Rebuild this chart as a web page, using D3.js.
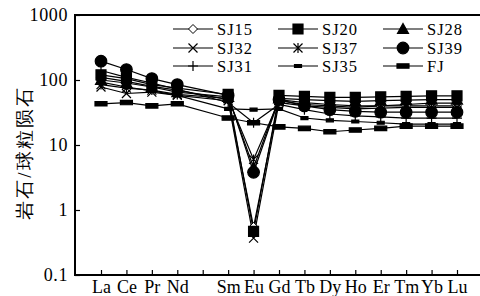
<!DOCTYPE html>
<html>
<head>
<meta charset="utf-8">
<script src="https://cdn.jsdelivr.net/npm/d3@7"></script>
<style>
  body { margin: 0; background: #fff; }
  svg { display: block; }
  text { font-family: "Liberation Serif", "DejaVu Serif", serif; fill: #000; }
</style>
</head>
<body>
<div id="chart"></div>
<script>
// REE, chondrite normalised. Pm has no data (gap on the axis)
const elements = ["La", "Ce", "Pr", "Nd", "Pm", "Sm", "Eu", "Gd", "Tb", "Dy", "Ho", "Er", "Tm", "Yb", "Lu"];
const elementLabels = ["La", "Ce", "Pr", "Nd", "", "Sm", "Eu", "Gd", "Tb", "Dy", "Ho", "Er", "Tm", "Yb", "Lu"];
const yTicks = [0.1, 1, 10, 100, 1000];

const sampleNames = ["SJ15", "SJ20", "SJ28", "SJ32", "SJ37", "SJ39", "SJ31", "SJ35", "FJ"];
const SJ15 = [110, 95, 80, 70, null, 50, 0.55, 50, 45, 42, 40, 40, 40, 40, 40];
const SJ20 = [120, 105, 85, 75, null, 60, 0.47, 58, 56, 54, 54, 55, 56, 57, 57];
const SJ28 = [100, 90, 78, 65, null, 55, 4.5, 52, 50, 48, 47, 48, 49, 50, 50];
const SJ32 = [78, 62, 65, 58, null, 48, 0.37, 45, 40, 38, 36, 37, 38, 38, 38];
const SJ37 = [85, 75, 70, 60, null, 52, 6, 48, 42, 40, 38, 40, 42, 44, 44];
const SJ39 = [195, 145, 105, 85, null, 58, 3.8, 50, 40, 35, 33, 32, 32, 32, 32];
const SJ31 = [140, 110, 90, 72, null, 45, 22, 42, 35, 30, 28, 27, 26, 26, 26];
const SJ35 = [93, 78, 68, 58, null, 36, 35, 36, 26, 24, 23, 22, 21, 21, 21];
const FJ = [43, 45, 40, 43, null, 26, 22, 19, 18, 16, 17, 18, 19.5, 19.5, 19.5];
const sampleValues = [SJ15, SJ20, SJ28, SJ32, SJ37, SJ39, SJ31, SJ35, FJ];
const sampleMarkers = ["diamond", "square", "triangle", "x", "star", "circle", "plus", "dash", "bar"];

const width = 480, height = 296;
const plotLeft = 75, plotTop = 15, plotBottom = 275;

const svg = d3.select("#chart").append("svg")
    .attr("width", width)
    .attr("height", height);

const x = d3.scalePoint().domain(elements).range([101, 457]);
const y = d3.scaleLog().domain([0.1, 1000]).range([plotBottom, plotTop]);

// marker shapes, centred on 0,0
const markerPath = {
  diamond: "M0,-4.5L4.5,0L0,4.5L-4.5,0Z",
  square: "M-5,-5H5V5H-5Z",
  triangle: "M0,-5.5L5.5,4.5H-5.5Z",
  x: "M-4.5,-4.5L4.5,4.5M4.5,-4.5L-4.5,4.5",
  star: "M-4.5,-4.5L4.5,4.5M4.5,-4.5L-4.5,4.5M0,-5V5",
  circle: d3.symbol(d3.symbolCircle, 105)(),
  plus: "M-5,0H5M0,-5V5",
  dash: "M-3.5,-1.5H3.5V1.5H-3.5Z",
  bar: "M-6,-2.2H6V2.2H-6Z"
};
const markerFill = m => (m === "diamond" ? "#fff" : (["x", "star", "plus"].includes(m) ? "none" : "#000"));

function drawMarker(g, m) {
  g.append("path")
      .attr("d", markerPath[m])
      .attr("fill", markerFill(m))
      .attr("stroke", "#000")
      .attr("stroke-width", m === "diamond" ? 1 : 1.2);
}

// axes
const xAxis = svg.append("g")
    .attr("transform", `translate(0,${plotBottom})`)
    .call(d3.axisBottom(x).tickSizeInner(-5).tickSizeOuter(0).tickPadding(5)
      .tickFormat((d, i) => elementLabels[i]));
xAxis.select(".domain").remove();
xAxis.selectAll("line").attr("stroke-width", 1.2);
xAxis.selectAll("text").attr("font-size", 18).attr("font-family", "Liberation Serif");

const yAxis = svg.append("g")
    .attr("transform", `translate(${plotLeft},0)`)
    .call(d3.axisLeft(y).tickValues(yTicks).tickSizeInner(-5).tickSizeOuter(0).tickPadding(7)
      .tickFormat(d => String(d)));
yAxis.select(".domain").remove();
yAxis.selectAll("line").attr("stroke-width", 1.2);
yAxis.selectAll("text").attr("font-size", 18).attr("font-family", "Liberation Serif")
    .attr("letter-spacing", 0.6);

// frame (runs off the right edge like the original)
svg.append("path")
    .attr("d", `M${width + 10},${plotTop}H${plotLeft}V${plotBottom}H${width + 10}`)
    .attr("fill", "none")
    .attr("stroke", "#000")
    .attr("stroke-width", 2);

svg.append("text")
    .attr("transform", `translate(31,${(plotTop + plotBottom) / 2 + 8}) rotate(-90)`)
    .attr("text-anchor", "middle")
    .attr("font-family", "Noto Sans CJK SC")
    .attr("font-size", 19)
    .attr("letter-spacing", 2)
    .text("岩石/球粒陨石");

// series
const line = d3.line().x(d => x(d.el)).y(d => y(d.v));
const series = sampleNames.map((name, i) => ({
  name,
  marker: sampleMarkers[i],
  points: elements.map((el, j) => ({ el, v: sampleValues[i][j] })).filter(p => p.v != null)
}));

const plot = svg.append("g");
series.forEach(s => {
  plot.append("path")
      .datum(s.points)
      .attr("d", line)
      .attr("fill", "none")
      .attr("stroke", "#000")
      .attr("stroke-width", 1.2);
});
series.forEach(s => {
  s.points.forEach(p => {
    const g = plot.append("g").attr("transform", `translate(${x(p.el)},${y(p.v)})`);
    drawMarker(g, s.marker);
  });
});

// legend, 3 columns x 3 rows
const legendCols = [173, 278, 383];
const legendRows = [29, 48, 66];
series.forEach((s, i) => {
  const lx = legendCols[i % 3], ly = legendRows[Math.floor(i / 3)];
  const g = svg.append("g").attr("transform", `translate(${lx},${ly})`);
  g.append("line").attr("x1", 0).attr("x2", 40).attr("y1", 0).attr("y2", 0)
      .attr("stroke", "#000").attr("stroke-width", 1.2);
  drawMarker(g.append("g").attr("transform", "translate(20,0)"), s.marker);
  g.append("text")
      .attr("x", 44)
      .attr("y", 6)
      .attr("font-size", 16.5)
      .attr("letter-spacing", 1)
      .text(s.name);
});
</script>
</body>
</html>
